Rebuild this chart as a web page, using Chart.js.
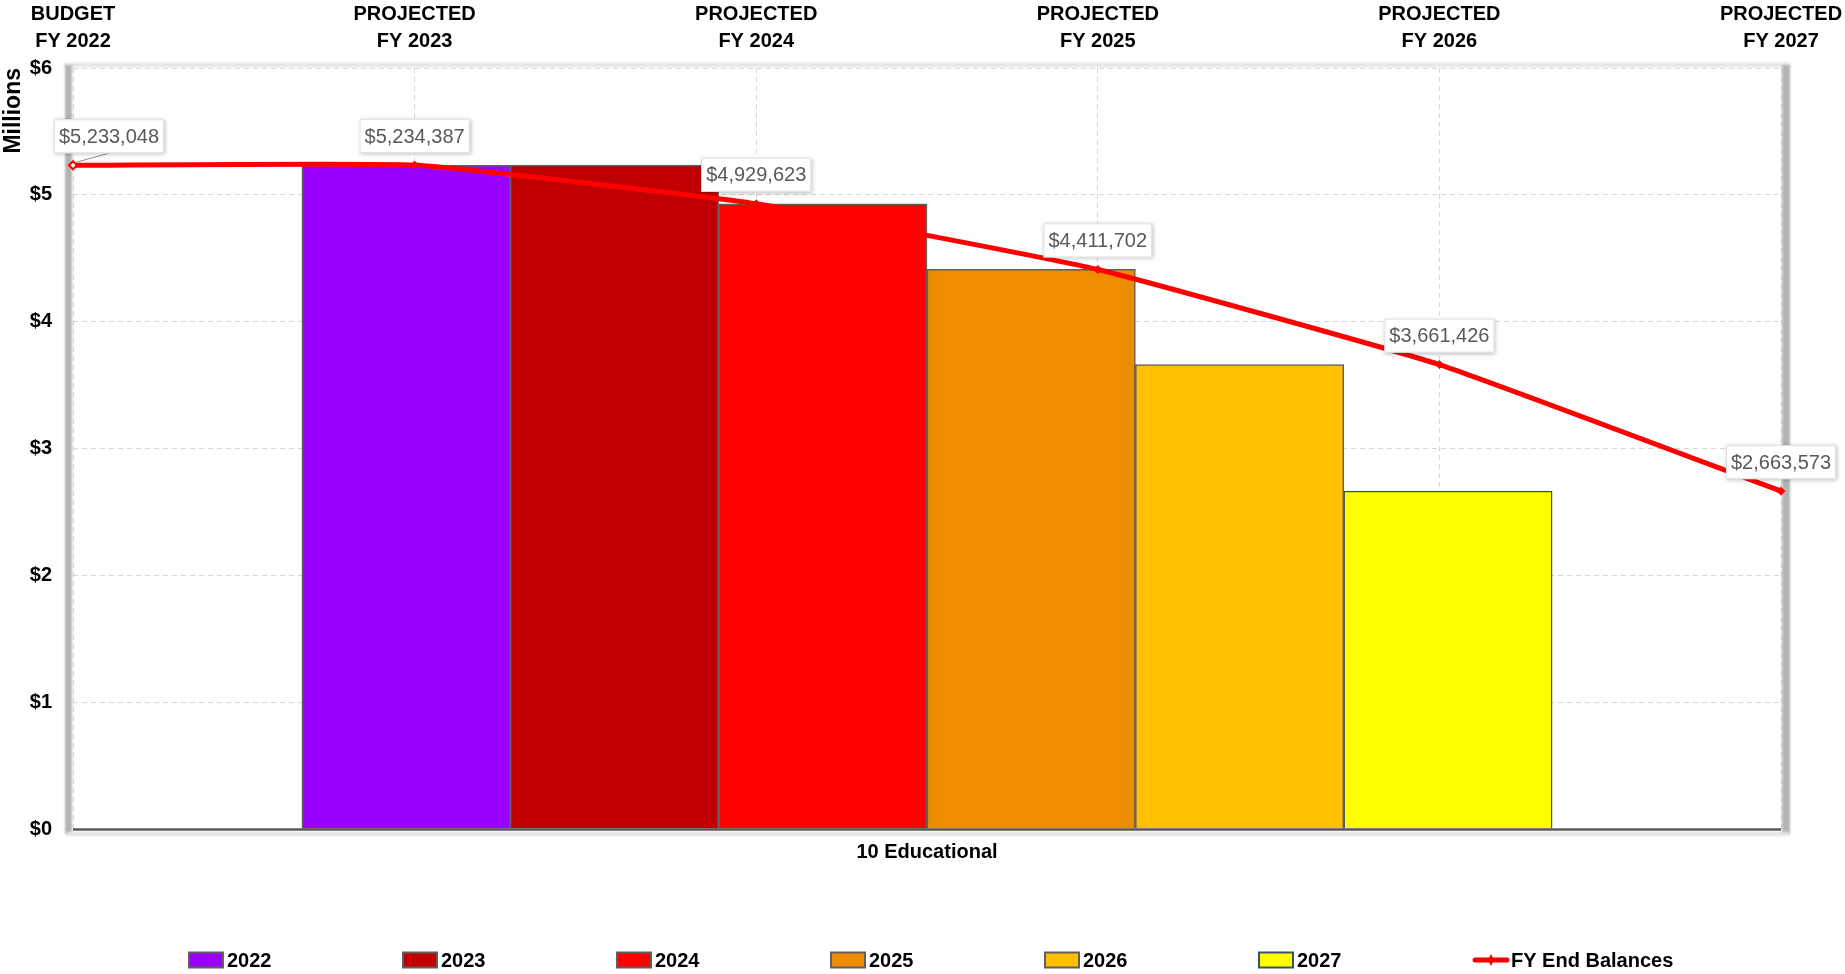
<!DOCTYPE html>
<html>
<head>
<meta charset="utf-8">
<title>10 Educational – FY End Balances</title>
<script src="https://cdn.jsdelivr.net/npm/chart.js@4/dist/chart.umd.min.js"></script>
<style>
  html, body { margin: 0; padding: 0; background: #ffffff; }
  #wrap { width: 1845px; height: 974px; position: relative; }
  canvas { display: block; }
</style>
</head>
<body>
<div id="wrap"><canvas id="chart" width="1845" height="974"></canvas></div>
<script>
// ---- data ----
const fundLabels = ['10 Educational'];
const yearLabels = ['2022', '2023', '2024', '2025', '2026', '2027'];
const periodLabels = [
  ['BUDGET', 'FY 2022'],
  ['PROJECTED', 'FY 2023'],
  ['PROJECTED', 'FY 2024'],
  ['PROJECTED', 'FY 2025'],
  ['PROJECTED', 'FY 2026'],
  ['PROJECTED', 'FY 2027']
];
const endBalances = [5233048, 5234387, 4929623, 4411702, 3661426, 2663573];
const lineLabel = 'FY End Balances';
const yTickMillions = [0, 1, 2, 3, 4, 5, 6];

// ---- styles ----
const FONT = "'Liberation Sans', Arial, Helvetica, sans-serif";
const barColors = ['#9900FF', '#C00000', '#FF0000', '#EE8C00', '#FFC000', '#FFFF00'];
const barBorders = ['#5f5f5f', '#5f5f5f', '#5f5f5f', '#5f5f5f', '#5f5f5f', '#3b4f66'];
const lineColor = '#FF0000';
const gridColor = '#d6d6d6';
// share of the category width taken by the group of year bars
const groupShare = 0.732;
const groupPad = (yearLabels.length / groupShare - yearLabels.length) / 2;

Chart.defaults.font.family = FONT;

const fmtMoney = v => '$' + Math.round(v).toLocaleString('en-US');

// Frame around the plot area: grey shadowed side edges, soft top edge
const framePlugin = {
  id: 'frame',
  beforeDatasetsDraw(chart) {
    const { ctx, chartArea: a } = chart;
    ctx.save();
    ctx.filter = 'blur(1.2px)';
    ctx.fillStyle = '#e4e4e4';
    ctx.fillRect(a.left - 9, a.top - 5, a.right - a.left + 18, 4);
    ctx.fillStyle = '#b3b3b3';
    ctx.fillRect(a.left - 8, a.top - 3, 7, a.bottom - a.top + 8);
    ctx.fillRect(a.right + 1, a.top - 3, 8, a.bottom - a.top + 8);
    ctx.fillStyle = '#e2e2e2';
    ctx.fillRect(a.left - 6, a.bottom + 3, a.right - a.left + 14, 4);
    ctx.restore();
  },
  afterDatasetsDraw(chart) {
    const { ctx, chartArea: a } = chart;
    ctx.save();
    ctx.strokeStyle = '#5a5a5a';
    ctx.lineWidth = 2.5;
    ctx.beginPath();
    ctx.moveTo(a.left, a.bottom + 0.5);
    ctx.lineTo(a.right, a.bottom + 0.5);
    ctx.stroke();
    ctx.restore();
  }
};

// Value call-outs above each point of the balance line
const calloutPlugin = {
  id: 'callouts',
  afterDatasetsDraw(chart) {
    const { ctx } = chart;
    const idx = chart.data.datasets.findIndex(d => d.type === 'line');
    const meta = chart.getDatasetMeta(idx);
    const values = chart.data.datasets[idx].data;
    ctx.save();
    ctx.font = '20px ' + FONT;
    ctx.textAlign = 'center';
    ctx.textBaseline = 'middle';
    meta.data.forEach((pt, i) => {
      const text = fmtMoney(values[i]);
      const w = ctx.measureText(text).width + 10;
      const h = 34;
      let cx = pt.x;
      const cy = pt.y - 29;
      if (i === 0) cx = pt.x + 36;
      const bx = cx - w / 2, by = cy - h / 2;
      if (i === 0) {
        ctx.strokeStyle = '#8c8c8c';
        ctx.lineWidth = 1;
        ctx.beginPath();
        ctx.moveTo(pt.x + 3, pt.y - 3);
        ctx.lineTo(cx, by + h);
        ctx.stroke();
      }
      ctx.shadowColor = 'rgba(0,0,0,0.28)';
      ctx.shadowBlur = 4;
      ctx.shadowOffsetX = 1;
      ctx.shadowOffsetY = 1;
      ctx.fillStyle = '#ffffff';
      ctx.fillRect(bx, by, w, h);
      ctx.shadowColor = 'transparent';
      ctx.shadowBlur = 0;
      ctx.shadowOffsetX = 0;
      ctx.shadowOffsetY = 0;
      ctx.strokeStyle = '#e0e0e0';
      ctx.lineWidth = 1;
      ctx.strokeRect(bx + 0.5, by + 0.5, w - 1, h - 1);
      ctx.fillStyle = '#595959';
      ctx.fillText(text, cx, cy + 1);
    });
    ctx.restore();
  }
};

// Legend row along the bottom edge, evenly spaced entries
const legendRowPlugin = {
  id: 'legendRow',
  afterDraw(chart) {
    const { ctx } = chart;
    const startX = 189, step = 214, cy = 960, boxW = 34, boxH = 15;
    ctx.save();
    ctx.font = 'bold 20px ' + FONT;
    ctx.textBaseline = 'middle';
    ctx.textAlign = 'left';
    chart.data.datasets.forEach((ds, i) => {
      const x = startX + i * step;
      if (ds.type === 'line') {
        ctx.strokeStyle = ds.borderColor;
        ctx.lineWidth = 5;
        ctx.lineCap = 'round';
        ctx.beginPath();
        ctx.moveTo(x + 2, cy);
        ctx.lineTo(x + boxW, cy);
        ctx.stroke();
        ctx.fillStyle = ds.borderColor;
        ctx.beginPath();
        ctx.moveTo(x + boxW / 2 + 1, cy - 6);
        ctx.lineTo(x + boxW / 2 + 4, cy);
        ctx.lineTo(x + boxW / 2 + 1, cy + 6);
        ctx.lineTo(x + boxW / 2 - 2, cy);
        ctx.closePath();
        ctx.fill();
      } else {
        ctx.fillStyle = ds.backgroundColor;
        ctx.fillRect(x, cy - boxH / 2, boxW, boxH);
        ctx.strokeStyle = ds.borderColor;
        ctx.lineWidth = 2;
        ctx.strokeRect(x, cy - boxH / 2, boxW, boxH);
      }
      ctx.fillStyle = '#000000';
      ctx.fillText(ds.label, x + boxW + 4, cy + 1);
    });
    ctx.restore();
  }
};

// one series per fiscal year, placed side by side inside the fund category
const barSets = yearLabels.map((yr, i) => ({
  type: 'bar',
  label: yr,
  data: [{ x: i, y: endBalances[i] }],
  backgroundColor: barColors[i],
  borderColor: barBorders[i],
  borderWidth: 1.5,
  grouped: false,
  barPercentage: 1.0,
  categoryPercentage: 1.0,
  xAxisID: 'xb',
  yAxisID: 'y',
  order: 2
}));

const lineSet = {
  type: 'line',
  label: lineLabel,
  data: endBalances,
  xAxisID: 'x2',
  yAxisID: 'y',
  borderColor: lineColor,
  backgroundColor: lineColor,
  borderWidth: 5,
  tension: 0.12,
  pointStyle: 'rectRot',
  pointRadius: 4,
  pointBackgroundColor: endBalances.map((v, i) => i === 0 ? '#ffffff' : lineColor),
  pointBorderColor: lineColor,
  pointBorderWidth: endBalances.map((v, i) => i === 0 ? 2 : 1),
  clip: false,
  order: 1
};

new Chart(document.getElementById('chart'), {
  type: 'bar',
  data: { labels: fundLabels, datasets: [...barSets, lineSet] },
  options: {
    responsive: false,
    animation: false,
    devicePixelRatio: 1,
    layout: { padding: { left: 0, right: 64, top: 0, bottom: 105 } },
    plugins: { legend: { display: false }, tooltip: { enabled: false } },
    scales: {
      x: {
        type: 'category',
        position: 'bottom',
        offset: true,
        grid: { display: false, drawTicks: false },
        border: { display: false },
        ticks: { color: '#000', font: { size: 20, weight: 'bold' }, padding: 11 },
        afterFit: s => { s.height = 40; s.paddingLeft = 0; s.paddingRight = 0; }
      },
      xb: {
        type: 'linear',
        display: false,
        offset: false,
        min: -0.5 - groupPad,
        max: yearLabels.length - 0.5 + groupPad,
        afterBuildTicks: s => { s.ticks = yearLabels.map((y, i) => ({ value: i })); }
      },
      x2: {
        type: 'category',
        position: 'top',
        labels: periodLabels,
        offset: false,
        grid: { display: true, offset: false, color: gridColor, lineWidth: 1, drawTicks: false },
        border: { display: false, dash: [5, 4] },
        ticks: { color: '#000', font: { size: 20, weight: 'bold', lineHeight: 1.35 }, padding: 13, maxRotation: 0, autoSkip: false },
        afterFit: s => { s.height = 68; s.paddingLeft = 0; s.paddingRight = 0; }
      },
      y: {
        type: 'linear',
        position: 'left',
        min: 0,
        max: 6000000,
        afterBuildTicks: s => { s.ticks = yTickMillions.map(m => ({ value: m * 1000000 })); },
        grid: { color: gridColor, lineWidth: 1, drawTicks: false },
        border: { display: false, dash: [5, 4] },
        ticks: {
          color: '#000',
          font: { size: 20, weight: 'bold' },
          padding: 21,
          callback: v => '$' + (v / 1000000)
        },
        title: {
          display: true,
          text: 'Millions',
          align: 'end',
          color: '#000',
          font: { size: 23, weight: 'bold' },
          padding: { top: 0, bottom: 0 }
        },
        afterFit: s => { s.width = 73; }
      }
    }
  },
  plugins: [framePlugin, calloutPlugin, legendRowPlugin]
});
</script>
</body>
</html>
